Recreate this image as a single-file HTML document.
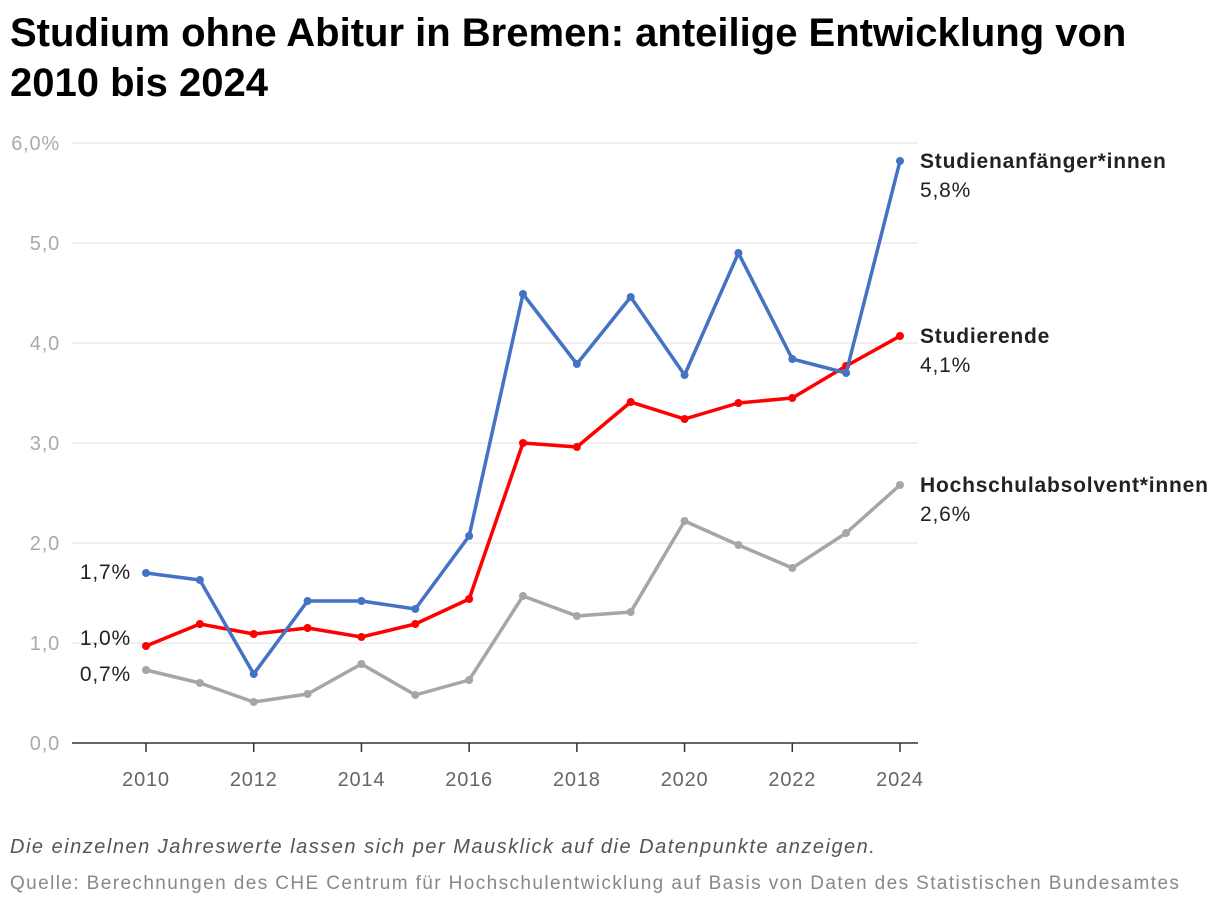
<!DOCTYPE html>
<html><head><meta charset="utf-8"><style>
body{margin:0;background:#fff;font-family:"Liberation Sans",sans-serif;}
#wrap{position:relative;width:1220px;height:908px;overflow:hidden}
h1{position:absolute;left:10px;top:8px;margin:0;font-size:40px;line-height:50px;font-weight:bold;color:#000;width:1170px;letter-spacing:0px}
.note{position:absolute;left:10px;font-size:20px;color:#555;white-space:nowrap}
svg text{letter-spacing:0.8px}
</style></head><body><div id="wrap">
<h1>Studium ohne Abitur in Bremen: anteilige Entwicklung von 2010 bis 2024</h1>
<svg id="c" width="1220" height="908" style="position:absolute;left:0;top:0"></svg>
<div class="note" style="top:836px;font-style:italic;color:#555;letter-spacing:1.5px">Die einzelnen Jahreswerte lassen sich per Mausklick auf die Datenpunkte anzeigen.</div>
<div class="note" style="top:873px;font-size:19px;color:#888;letter-spacing:1.4px">Quelle: Berechnungen des CHE Centrum für Hochschulentwicklung auf Basis von Daten des Statistischen Bundesamtes</div>
</div>
<script>
const years=[2010,2011,2012,2013,2014,2015,2016,2017,2018,2019,2020,2021,2022,2023,2024];
const anfaenger=[1.70,1.63,0.69,1.42,1.42,1.34,2.07,4.49,3.79,4.46,3.68,4.90,3.84,3.70,5.82];
const studierende=[0.97,1.19,1.09,1.15,1.06,1.19,1.44,3.00,2.96,3.41,3.24,3.40,3.45,3.77,4.07];
const absolventen=[0.73,0.60,0.41,0.49,0.79,0.48,0.63,1.47,1.27,1.31,2.22,1.98,1.75,2.10,2.58];
const yTicks=[0,1,2,3,4,5,6];
const yTickLabels=["0,0","1,0","2,0","3,0","4,0","5,0","6,0%"];
const xTicks=[2010,2012,2014,2016,2018,2020,2022,2024];
const seriesNames=["Studienanfänger*innen","Studierende","Hochschulabsolvent*innen"];
const startLabels=["1,7%","1,0%","0,7%"];
const endLabels=["5,8%","4,1%","2,6%"];
const colors=["#4472c4","#ff0000","#a6a6a6"];
const X=y=>146+(y-2010)*(900-146)/14;
const Y=v=>743-v*100;
const svg=document.getElementById('c');const NS="http://www.w3.org/2000/svg";
function mk(t,a,p){const e=document.createElementNS(NS,t);for(const k in a)e.setAttribute(k,a[k]);(p||svg).appendChild(e);return e;}
yTicks.forEach((v,i)=>{
 if(v>0){const l=mk('line',{x1:72,x2:918,y1:Y(v),y2:Y(v),stroke:'#e0e0e0','stroke-width':1});
 
 }
 const t=mk('text',{x:60,y:Y(v)+7,'text-anchor':'end','font-size':20,fill:'#aaa'});t.textContent=yTickLabels[i];
 
 
});
const ax=mk('line',{x1:72,x2:918,y1:743,y2:743,stroke:'#333','stroke-width':1.5});


xTicks.forEach(y=>{
 mk('line',{x1:X(y),x2:X(y),y1:743,y2:752,stroke:'#333','stroke-width':1.5});
 const t=mk('text',{x:X(y),y:786,'text-anchor':'middle','font-size':20,fill:'#666'});t.textContent=y;
 
 
});
const data=[anfaenger,studierende,absolventen];
[2,1,0].forEach(s=>{
 const vals=data[s];
 const p=mk('polyline',{points:vals.map((v,i)=>X(years[i])+','+Y(v)).join(' '),fill:'none',stroke:colors[s],'stroke-width':3.5,'stroke-linejoin':'round'});
 
 
 vals.forEach((v,i)=>{const c=mk('circle',{cx:X(years[i]),cy:Y(v),r:4,fill:colors[s]});
  
  });
 const ly=Y(vals[vals.length-1]);
 const n=mk('text',{x:920,y:ly+7,'font-size':21,'font-weight':'bold',fill:'#222'});n.textContent=seriesNames[s];
 
 
 const e=mk('text',{x:920,y:ly+36,'font-size':21,fill:'#222'});e.textContent=endLabels[s];
 
 
 const sy=[Y(vals[0])+6,Y(vals[0])-1,Y(vals[0])+11][s];
 const st=mk('text',{x:131,y:sy,'text-anchor':'end','font-size':21,fill:'#222'});st.textContent=startLabels[s];
 
 
});
</script></body></html>
